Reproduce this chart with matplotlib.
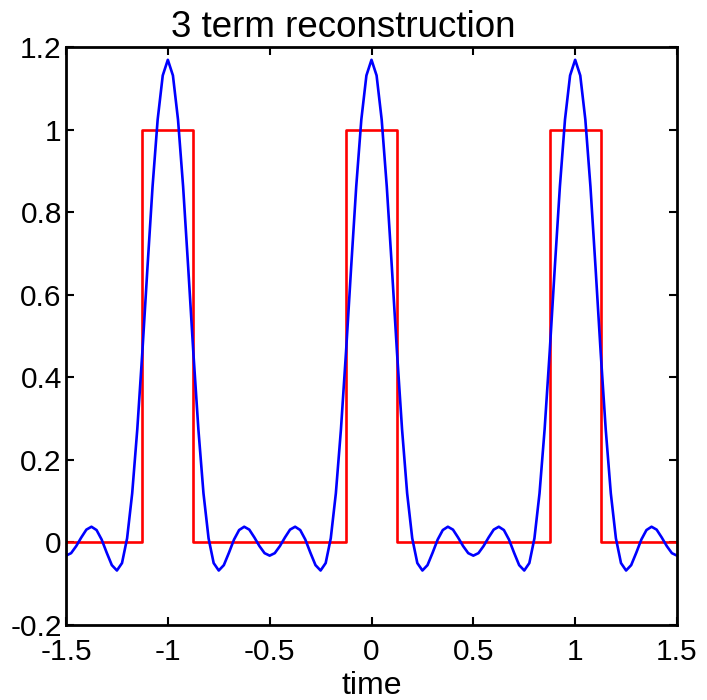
import matplotlib
matplotlib.use("Agg")
import matplotlib.pyplot as plt
import numpy as np

plt.rcParams['font.family'] = ['Liberation Sans', 'DejaVu Sans']
plt.rcParams['axes.unicode_minus'] = False

# Square pulse train (red)
pulse_t = [-1.5, -1.125, -1.125, -0.875, -0.875, -0.125, -0.125, 0.125, 0.125,
           0.875, 0.875, 1.125, 1.125, 1.5]
pulse_y = [0, 0, 1, 1, 0, 0, 1, 1, 0, 0, 1, 1, 0, 0]

# 3-term reconstruction (blue), sampled every 0.025 from -1.5 to 1.5
recon_t_start, recon_t_step = -1.5, 0.025
recon_y = [
    -0.032, -0.026, -0.009, 0.012, 0.031, 0.038, 0.030, 0.007, -0.025, -0.055,
    -0.068, -0.050, 0.010, 0.119, 0.274, 0.462, 0.666, 0.862, 1.024, 1.131,
    1.169,
    1.131, 1.024, 0.862, 0.666, 0.462, 0.274, 0.119, 0.010, -0.050, -0.068,
    -0.055, -0.025, 0.007, 0.030, 0.038, 0.031, 0.012, -0.009, -0.026, -0.032,
    -0.026, -0.009, 0.012, 0.031, 0.038, 0.030, 0.007, -0.025, -0.055, -0.068,
    -0.050, 0.010, 0.119, 0.274, 0.462, 0.666, 0.862, 1.024, 1.131, 1.169,
    1.131, 1.024, 0.862, 0.666, 0.462, 0.274, 0.119, 0.010, -0.050, -0.068,
    -0.055, -0.025, 0.007, 0.030, 0.038, 0.031, 0.012, -0.009, -0.026, -0.032,
    -0.026, -0.009, 0.012, 0.031, 0.038, 0.030, 0.007, -0.025, -0.055, -0.068,
    -0.050, 0.010, 0.119, 0.274, 0.462, 0.666, 0.862, 1.024, 1.131, 1.169,
    1.131, 1.024, 0.862, 0.666, 0.462, 0.274, 0.119, 0.010, -0.050, -0.068,
    -0.055, -0.025, 0.007, 0.030, 0.038, 0.031, 0.012, -0.009, -0.026, -0.032,
]
recon_t = recon_t_start + recon_t_step * np.arange(len(recon_y))

xticks = [-1.5, -1, -0.5, 0, 0.5, 1, 1.5]
xticklabels = ['-1.5', '-1', '-0.5', '0', '0.5', '1', '1.5']
yticks = [-0.2, 0, 0.2, 0.4, 0.6, 0.8, 1.0, 1.2]
yticklabels = ['-0.2', '0', '0.2', '0.4', '0.6', '0.8', '1', '1.2']

fig = plt.figure(figsize=(7.07, 7.0), dpi=100)
ax = fig.add_axes([66/707, 1 - 625/700, 611/707, 578/700])

ax.plot(pulse_t, pulse_y, color='#ff0000', lw=1.9)
ax.plot(recon_t, recon_y, color='#0000ff', lw=1.9)

ax.set_xlim(-1.5, 1.5)
ax.set_ylim(-0.2, 1.2)
ax.set_xticks(xticks)
ax.set_xticklabels(xticklabels)
ax.set_yticks(yticks)
ax.set_yticklabels(yticklabels)
ax.tick_params(direction='in', length=6, width=1.5, top=True, right=True,
               labelsize=21.5, colors='black')
ax.tick_params(axis='y', pad=3)
ax.tick_params(axis='x', pad=9)
for s in ax.spines.values():
    s.set_linewidth(2.0)

fig.text(343.5/707, 1 - 37/700, '3 term reconstruction', ha='center',
         va='baseline', fontsize=26.5)
fig.text(371.5/707, 6/700, 'time', ha='center', va='baseline', fontsize=23)

fig.savefig('out.png', dpi=100)
